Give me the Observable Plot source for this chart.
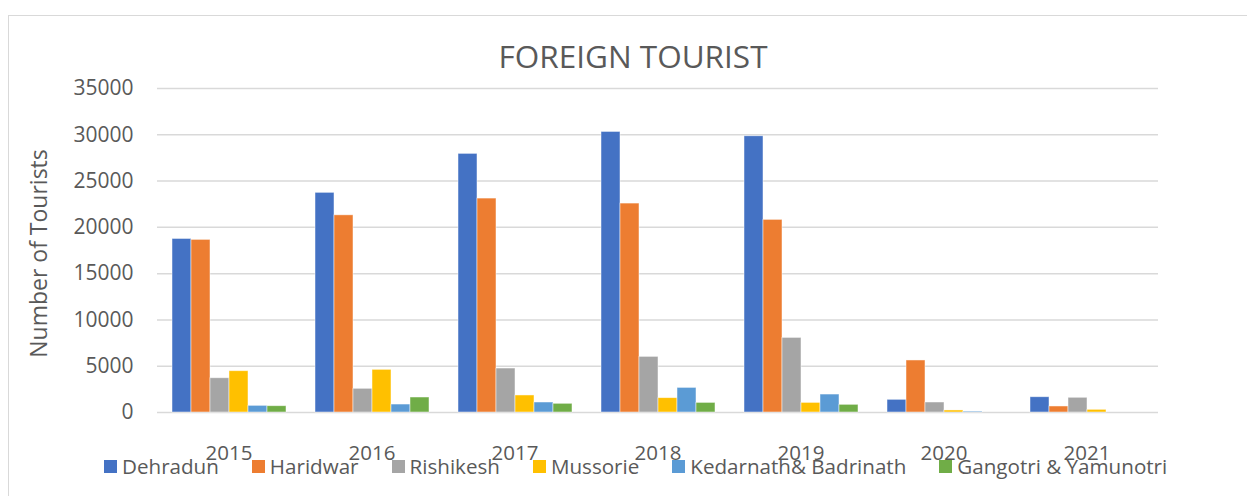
<!DOCTYPE html>
<html>
<head>
<meta charset="utf-8">
<script src="https://cdn.jsdelivr.net/npm/d3@7"></script>
<script src="https://cdn.jsdelivr.net/npm/@observablehq/plot@0.6"></script>
<style>
  html, body { margin: 0; padding: 0; background: #fff; overflow: hidden; }
  body { width: 1247px; height: 496px; position: relative; font-family: "Open Sans", sans-serif; color: #595959; }
  #frame { position: absolute; left: 8px; top: 15px; width: 1400px; height: 700px; border: 1.5px solid #d9d9d9; box-sizing: border-box; }
  #chart { position: absolute; left: 0; top: 0; }
  #title { position: absolute; left: 333px; width: 600px; top: 40px; text-align: center; font-size: 31.5px; line-height: 1; white-space: nowrap; }
  #ylabel { position: absolute; left: -112px; width: 300px; top: 242px; text-align: center; font-size: 23px; line-height: 1; transform: rotate(-90deg); transform-origin: 50% 50%; white-space: nowrap; }
  #legend { position: absolute; left: 104px; top: 456px; display: flex; gap: 33px; font-size: 20.6px; line-height: 1; white-space: nowrap; }
  .item { display: flex; align-items: center; }
  .sw { width: 13px; height: 13px; margin-right: 5px; display: inline-block; }
</style>
</head>
<body>
<div id="frame"></div>
<div id="chart"></div>
<div id="title"></div>
<div id="ylabel"></div>
<div id="legend"></div>
<script>
const titleText = "FOREIGN TOURIST";
const yLabelText = "Number of Tourists";
const years = ["2015", "2016", "2017", "2018", "2019", "2020", "2021"];
const seriesNames = ["Dehradun", "Haridwar", "Rishikesh", "Mussorie", "Kedarnath& Badrinath", "Gangotri & Yamunotri"];
const seriesColors = ["#4472C4", "#ED7D31", "#A5A5A5", "#FFC000", "#5B9BD5", "#70AD47"];
const dehradun  = [18750, 23730, 27940, 30310, 29840, 1370, 1650];
const haridwar  = [18650, 21300, 23110, 22570, 20810, 5620, 650];
const rishikesh = [3700, 2560, 4750, 6010, 8060, 1080, 1590];
const mussorie  = [4460, 4610, 1840, 1550, 1040, 220, 290];
const kedarnath = [720, 860, 1080, 2660, 1940, 100, 0];
const gangotri  = [680, 1620, 940, 1040, 830, 0, 0];
const yTicks = [0, 5000, 10000, 15000, 20000, 25000, 30000, 35000];

const seriesValues = [dehradun, haridwar, rishikesh, mussorie, kedarnath, gangotri];
const data = [];
years.forEach((yr, i) => {
  seriesNames.forEach((s, j) => {
    data.push({year: yr, series: s, value: seriesValues[j][i]});
  });
});

const chart = Plot.plot({
  width: 1247,
  height: 496,
  marginLeft: 157,
  marginRight: 89,
  marginTop: 88,
  marginBottom: 84,
  style: {fontFamily: "'Open Sans', sans-serif", fontSize: "21px", color: "#595959", background: "transparent", overflow: "visible"},
  fx: {domain: years, padding: 0, label: null, axis: null},
  x: {domain: seriesNames, paddingInner: 0, paddingOuter: 0.76, axis: null},
  y: {domain: [0, 35000], axis: null},
  color: {domain: seriesNames, range: seriesColors},
  marks: [
    Plot.ruleY(yTicks, {stroke: "#d9d9d9", strokeWidth: 1.5}),
    Plot.barY(data, {fx: "year", x: "series", y: "value", fill: "series", stroke: "white", strokeWidth: 0.8, strokeOpacity: 0.6}),
    Plot.axisY({ticks: yTicks, tickSize: 0, tickPadding: 24, tickFormat: d => String(d), label: null, fontSize: 21}),
    Plot.axisFx({anchor: "bottom", domain: years, tickSize: 0, tickPadding: 33, label: null, fontSize: 20.5})
  ]
});
document.getElementById("chart").appendChild(chart);
document.getElementById("title").textContent = titleText;
document.getElementById("ylabel").textContent = yLabelText;
const legend = document.getElementById("legend");
seriesNames.forEach((s, j) => {
  const item = document.createElement("div");
  item.className = "item";
  const sw = document.createElement("span");
  sw.className = "sw";
  sw.style.background = seriesColors[j];
  const t = document.createElement("span");
  t.textContent = s;
  item.appendChild(sw);
  item.appendChild(t);
  legend.appendChild(item);
});
</script>
</body>
</html>
